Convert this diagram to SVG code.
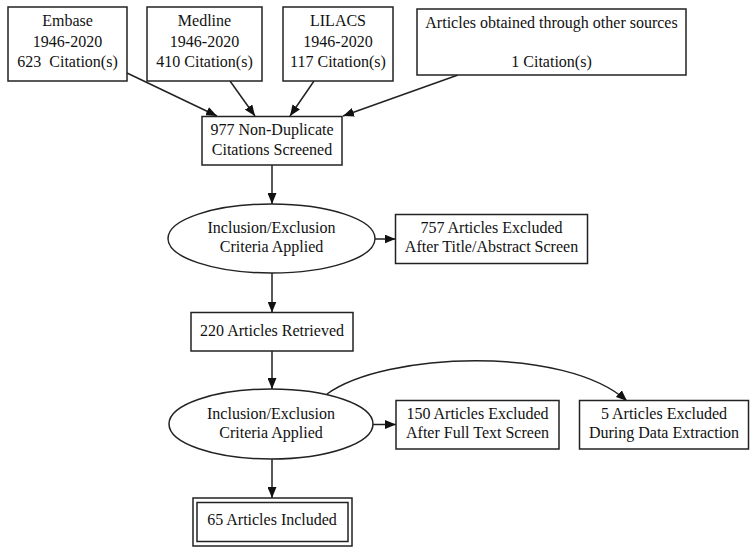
<svg xmlns="http://www.w3.org/2000/svg" width="754" height="551" viewBox="0 0 754 551">
<defs>
<style>
text{font-family:"Liberation Serif","Times New Roman",serif;font-size:16px;fill:#111;text-anchor:middle;white-space:pre}
.n{fill:#fff;stroke:#222;stroke-width:1.5}
.e{fill:none;stroke:#222;stroke-width:1.5}
</style>
<marker id="ah" viewBox="0 0 11 9" refX="11" refY="4.5" markerWidth="11" markerHeight="9" markerUnits="userSpaceOnUse" orient="auto">
<path d="M0,0 L11,4.5 L0,9 Z" fill="#111"/>
</marker>
</defs>
<rect width="754" height="551" fill="#fff"/>
<g id="connectors">
<path class="e" d="M127,73 L217,116" marker-end="url(#ah)"/>
<path class="e" d="M230,81 L255,116" marker-end="url(#ah)"/>
<path class="e" d="M314,81 L290,116" marker-end="url(#ah)"/>
<path class="e" d="M458,75 L343,116" marker-end="url(#ah)"/>
<path class="e" d="M272,165 L272,204" marker-end="url(#ah)"/>
<path class="e" d="M375,239 L395.5,239" marker-end="url(#ah)"/>
<path class="e" d="M272,273 L272,312.5" marker-end="url(#ah)"/>
<path class="e" d="M272,351 L272,389" marker-end="url(#ah)"/>
<path class="e" d="M373,424.5 L396,424.5" marker-end="url(#ah)"/>
<path class="e" d="M272,459 L272,498" marker-end="url(#ah)"/>
<path class="e" d="M327,394 C385,352 565,345 627,401" marker-end="url(#ah)"/>
</g>
<g id="embase"><rect class="n" x="8" y="7" width="119" height="74"/><text x="67.5" y="26">Embase</text><text x="67.5" y="46.5">1946-2020</text><text x="67.5" y="67">623  Citation(s)</text></g>
<g id="medline"><rect class="n" x="147" y="7" width="115" height="74"/><text x="204.5" y="26">Medline</text><text x="204.5" y="46.5">1946-2020</text><text x="204.5" y="67">410 Citation(s)</text></g>
<g id="lilacs"><rect class="n" x="283" y="7" width="110" height="74"/><text x="338" y="26">LILACS</text><text x="338" y="46.5">1946-2020</text><text x="338" y="67">117 Citation(s)</text></g>
<g id="other"><rect class="n" x="417" y="9" width="269" height="66"/><text x="551.5" y="28">Articles obtained through other sources</text><text x="551.5" y="67">1 Citation(s)</text></g>
<g id="screened"><rect class="n" x="202" y="116.5" width="140" height="48.5"/><text x="272" y="135">977 Non-Duplicate</text><text x="272" y="155">Citations Screened</text></g>
<g id="criteria1"><ellipse class="n" cx="271.5" cy="238.5" rx="103.5" ry="34.5"/><text x="271.5" y="232.5">Inclusion/Exclusion</text><text x="271.5" y="251.5">Criteria Applied</text></g>
<g id="excluded757"><rect class="n" x="395.5" y="214.5" width="192" height="49"/><text x="491.5" y="232.5">757 Articles Excluded</text><text x="491.5" y="251.5">After Title/Abstract Screen</text></g>
<g id="retrieved"><rect class="n" x="191" y="312.5" width="162" height="38.5"/><text x="272" y="336">220 Articles Retrieved</text></g>
<g id="criteria2"><ellipse class="n" cx="271" cy="424" rx="102" ry="35"/><text x="271" y="418.5">Inclusion/Exclusion</text><text x="271" y="438">Criteria Applied</text></g>
<g id="excluded150"><rect class="n" x="396" y="400.5" width="163" height="48.5"/><text x="477.5" y="418.5">150 Articles Excluded</text><text x="477.5" y="438">After Full Text Screen</text></g>
<g id="excluded5"><rect class="n" x="579.5" y="400.5" width="169" height="48.5"/><text x="664" y="418.5">5 Articles Excluded</text><text x="664" y="438">During Data Extraction</text></g>
<g id="included"><rect class="n" x="193" y="498" width="159" height="48"/><rect class="n" x="197" y="502.5" width="151" height="39"/><text x="272" y="525">65 Articles Included</text></g>
</svg>
